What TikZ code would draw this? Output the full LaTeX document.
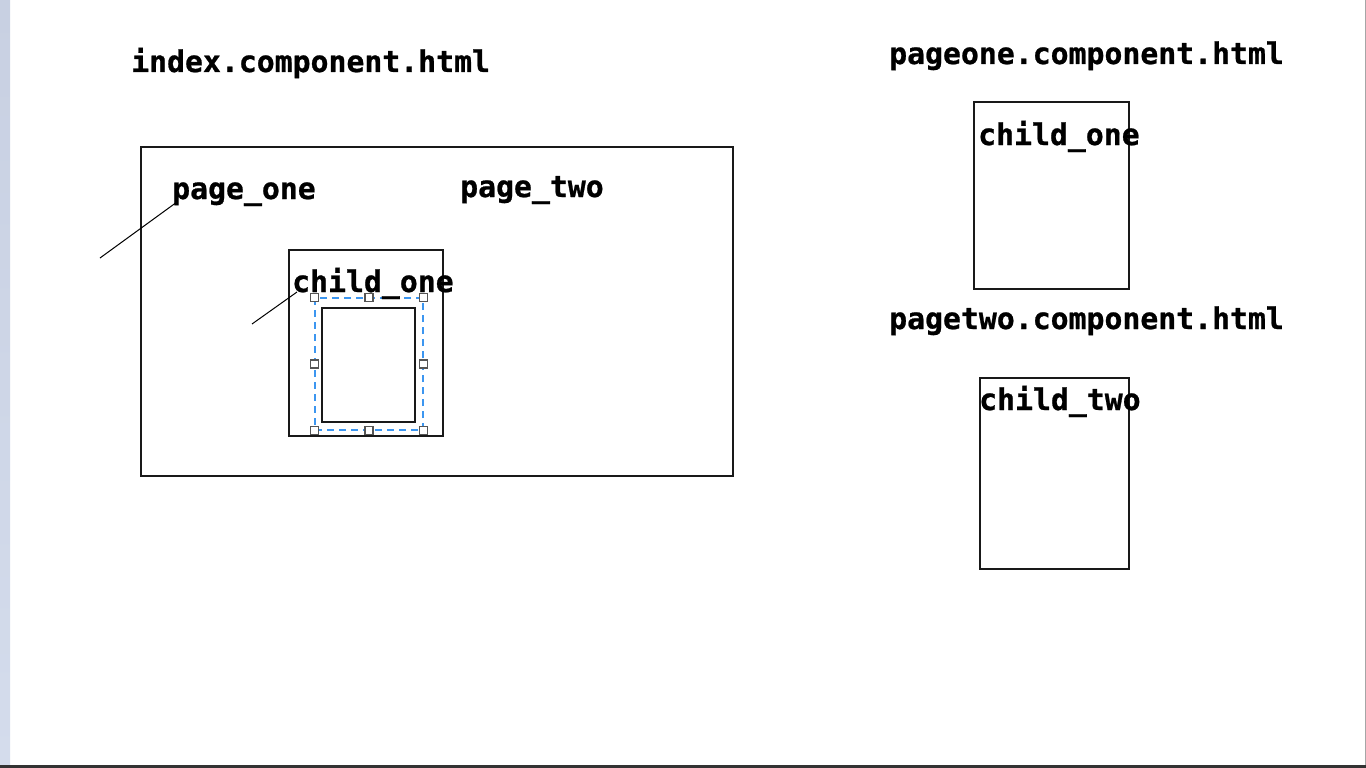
\documentclass[tikz,border=0pt]{standalone}
\usepackage{fontspec}
\newfontfamily\codefont{DejaVu Sans Mono}[BoldFeatures={FakeBold=0.8}]
\definecolor{selblue}{HTML}{3C96F0}
\definecolor{handlegray}{HTML}{555555}
\definecolor{stripA}{HTML}{C8D0E2}
\definecolor{stripB}{HTML}{D4DCEC}
\begin{document}
\begin{tikzpicture}[x=1pt,y=-1pt,
  lbl/.style={anchor=base west,inner sep=0pt,font=\codefont\bfseries\fontsize{29.8}{30}\selectfont},
  frame/.style={draw=black!90,line width=1.7pt,rectangle,inner sep=0pt},
  selbox/.style={draw=selblue,line width=1.4pt,dash pattern=on 7pt off 5pt,rectangle,inner sep=0pt},
  handle/.style={draw=handlegray,fill=white,line width=1.5pt,rectangle,inner sep=0pt,minimum size=8pt},
  pointer/.style={draw=black,line width=1pt}]
\useasboundingbox (0,0) rectangle (1366,768);
\fill[white] (0,0) rectangle (1366,768);
\shade[top color=stripA,bottom color=stripB] (0,0) rectangle (10,768);
\draw[gray!70,line width=1pt] (1365,0) -- (1365,768);
\fill[black!80] (0,765) rectangle (1366,768);

% left diagram
\node[frame,minimum width=592pt,minimum height=329pt] (outer) at (437,311.5) {};
\node[frame,minimum width=154pt,minimum height=186pt] (childbox) at (366,343) {};
\node[selbox,minimum width=108pt,minimum height=132pt] (sel) at (369,364) {};
\node[frame,line width=1.5pt,minimum width=93pt,minimum height=114pt] (inner) at (368.5,365) {};
\foreach \a/\n in {north west/h1,north/h2,north east/h3,west/h4,east/h5,south west/h6,south/h7,south east/h8}
  \node[handle] (\n) at (sel.\a) {};

\node[lbl] (index) at (131,72) {index.component.html};
\node[lbl] (pone) at (172,199) {page\_one};
\node[lbl] (ptwo) at (460,197) {page\_two};
\node[lbl] (cone) at (292,292) {child\_one};

\coordinate (p1a) at (100,258);
\coordinate (p1b) at (177,202);
\coordinate (c1a) at (252,324);
\coordinate (c1b) at (297,292);
\draw[pointer] (p1a) -- (p1b);
\draw[pointer] (c1a) -- (c1b);

% right diagrams
\node[lbl] (pageone) at (889,64) {pageone.component.html};
\node[frame,minimum width=155pt,minimum height=187pt] (rbox1) at (1051.5,195.5) {};
\node[lbl] (rc1) at (978,145) {child\_one};

\node[lbl] (pagetwo) at (889,329) {pagetwo.component.html};
\node[frame,minimum width=149pt,minimum height=191pt] (rbox2) at (1054.5,473.5) {};
\node[lbl] (rc2) at (979,410) {child\_two};
\end{tikzpicture}
\end{document}
